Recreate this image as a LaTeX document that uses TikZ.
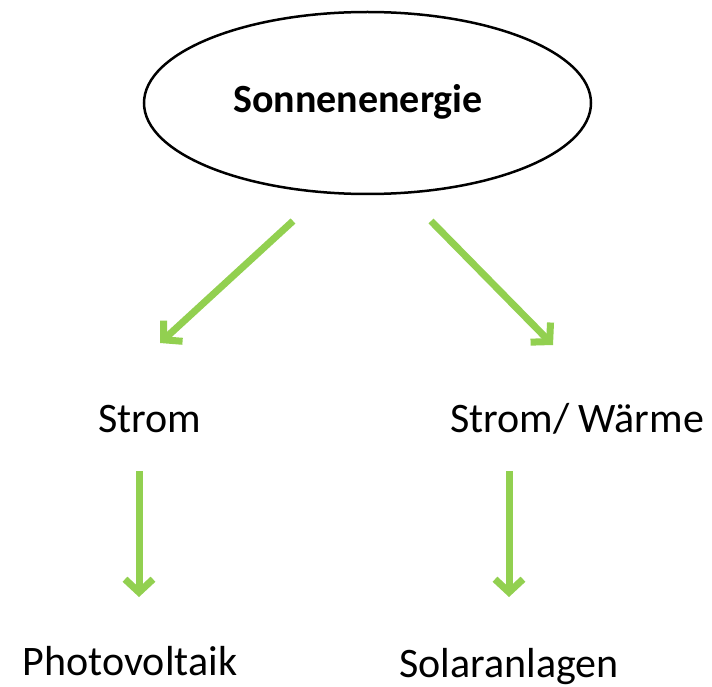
\documentclass[tikz,border=0pt]{standalone}
\usepackage{fontspec}
\setmainfont{Carlito}
\usetikzlibrary{arrows.meta,shapes.geometric}
\definecolor{lgreen}{RGB}{146,208,80}
\begin{document}
\begin{tikzpicture}[x=1pt,y=-1pt,
  conn/.style={draw=lgreen,line width=7pt,-{Straight Barb[length=13pt,width=28pt]}},
  lbl/.style={anchor=base,inner sep=0pt,font=\fontsize{42}{50}\selectfont}]
\useasboundingbox[fill=white] (0,0) rectangle (712,687);
\node[draw,ellipse,line width=2.5pt,minimum width=447pt,minimum height=182pt,inner sep=0pt] (sun) at (367.5,103) {};
\node[anchor=base,inner sep=0pt,font=\bfseries\fontsize{40}{48}\selectfont] (title) at (358,113) {Sonnenenergie};
\node[lbl] (strom) at (150,432) {Strom};
\node[lbl] (waerme) at (577,432) {Strom/ Wärme};
\node[lbl] (pv) at (130,675) {Photovoltaik};
\node[lbl] (solar) at (509,677) {Solaranlagen};
\coordinate (a1s) at (293,221);
\coordinate (a1e) at (160,343);
\coordinate (a2s) at (431,221);
\coordinate (a2e) at (553,345);
\coordinate (a3s) at (139,471);
\coordinate (a3e) at (139,597);
\coordinate (a4s) at (509,471);
\coordinate (a4e) at (509,597);
\draw[conn] (a1s) -- (a1e);
\draw[conn] (a2s) -- (a2e);
\draw[conn] (a3s) -- (a3e);
\draw[conn] (a4s) -- (a4e);
\end{tikzpicture}
\end{document}
